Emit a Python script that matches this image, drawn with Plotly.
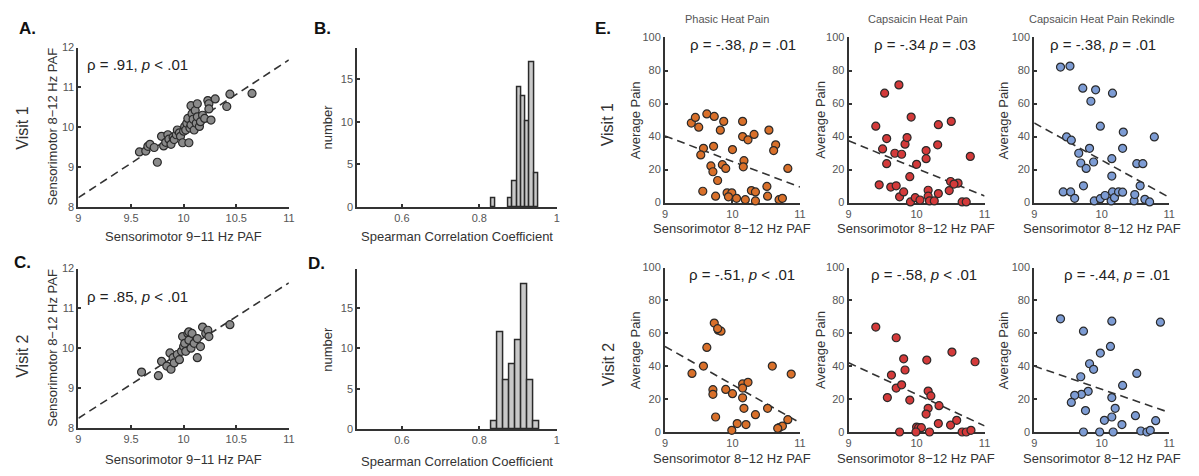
import plotly.graph_objects as go

W, H = 1199, 476
FONT = "Arial, Liberation Sans, sans-serif"
INK = "#333333"
TICK = "#555555"

# ---------------- Panel A / C: 9-11 Hz vs 8-12 Hz PAF ----------------
paf911_v1 = [9.58, 9.64, 9.66, 9.68, 9.72, 9.75, 9.79, 9.81, 9.83, 9.85, 9.86, 9.88, 9.90,
             9.91, 9.93, 9.94, 9.96, 9.97, 9.99, 10.00, 10.01, 10.02, 10.03, 10.04, 10.05,
             10.06, 10.07, 10.07, 10.08, 10.09, 10.10, 10.11, 10.12, 10.13, 10.13, 10.15,
             10.16, 10.18, 10.20, 10.23, 10.24, 10.24, 10.26, 10.30, 10.41, 10.44, 10.65]
paf812_v1 = [9.38, 9.40, 9.52, 9.57, 9.49, 9.12, 9.77, 9.53, 9.62, 9.81, 9.70, 9.57, 9.75,
             9.69, 9.81, 9.93, 9.86, 9.77, 9.61, 9.90, 10.02, 9.93, 10.10, 10.22, 9.61,
             9.98, 10.06, 10.54, 10.34, 10.20, 9.93, 10.42, 10.10, 10.59, 10.26, 10.02,
             10.14, 10.30, 10.22, 10.67, 10.59, 10.46, 10.18, 10.71, 10.52, 10.83, 10.85]

paf911_v2 = [9.60, 9.76, 9.79, 9.84, 9.87, 9.88, 9.90, 9.91, 9.94, 9.96, 9.98, 9.99, 10.00,
             10.01, 10.02, 10.04, 10.05, 10.05, 10.07, 10.08, 10.10, 10.13, 10.13, 10.16,
             10.18, 10.21, 10.23, 10.24, 10.44]
paf812_v2 = [9.40, 9.31, 9.67, 9.55, 9.88, 9.47, 9.76, 9.63, 9.84, 9.71, 9.92, 10.29, 10.04,
             10.12, 9.92, 10.37, 10.20, 10.41, 10.00, 10.37, 10.12, 10.24, 9.76, 10.04,
             10.53, 10.37, 10.45, 10.29, 10.59]

# dashed least-squares lines: value at 9 Hz and slope
fit_a = [8.23, 1.73]
fit_c = [8.24, 1.70]

# ---------------- Panel B / D: bootstrap Spearman coefficients ----------------
hist_b_start, hist_b_width = 0.831, 0.011
hist_b_counts = [1, 0, 0, 0, 1, 3, 14, 13, 10, 17, 4]
hist_d_start, hist_d_width = 0.8315, 0.0155
hist_d_counts = [1, 12, 6, 8, 11, 18, 6, 1]

# ---------------- Panel E: PAF vs average pain ----------------
phasic_v1_x = [9.39, 9.45, 9.50, 9.62, 9.73, 9.87, 9.82, 9.57, 9.53, 9.72, 9.68, 9.71, 9.78,
               9.85, 9.90, 10.00, 10.15, 10.15, 10.23, 10.32, 10.17, 10.16, 9.56, 9.75, 9.92,
               9.99, 9.94, 10.06, 10.19, 10.28, 10.34, 10.34, 10.51, 10.52, 10.54, 10.64,
               10.61, 10.82, 10.69, 10.74]
phasic_v1_y = [48.2, 51.6, 45.7, 53.7, 52.2, 49.2, 43.9, 32.9, 28.9, 34.1, 22.2, 18.7, 13.4,
               23.0, 20.7, 32.1, 49.2, 40.0, 38.0, 41.3, 25.4, 21.7, 6.9, 3.9, 5.9,
               5.9, 3.5, 2.6, 1.8, 7.3, 6.5, 1.0, 9.8, 3.9, 43.9, 35.0,
               31.5, 20.7, 1.8, 2.6]

caps_v1_x = [9.40, 9.53, 9.74, 9.92, 9.56, 9.50, 9.56, 9.68, 9.78, 9.83, 9.86, 10.00, 10.14,
             10.14, 10.32, 10.31, 10.51, 10.79, 9.45, 9.62, 9.70, 9.75, 9.81, 9.90, 9.91,
             9.98, 10.05, 10.17, 10.17, 10.19, 10.26, 10.32, 10.48, 10.50, 10.61, 10.67,
             10.73, 10.55]
caps_v1_y = [46.3, 66.3, 71.3, 51.8, 38.8, 32.5, 23.6, 29.9, 29.3, 35.4, 39.4, 23.2, 31.5,
             26.6, 47.2, 35.0, 49.2, 28.0, 10.8, 9.4, 10.2, 3.5, 6.5, 15.7, 0.4,
             3.0, 1.6, 7.5, 3.9, 1.0, 1.0, 5.5, 7.3, 12.8, 11.8, 0.4,
             0.4, 11.2]

rek_v1_x = [9.39, 9.53, 9.72, 9.91, 9.84, 10.16, 9.98, 9.48, 9.55, 9.66, 9.69, 9.77, 9.82,
            9.88, 10.15, 10.32, 10.31, 10.15, 10.52, 10.61, 10.78, 9.73, 9.43, 9.54, 9.60,
            9.89, 9.98, 10.05, 10.14, 10.16, 10.19, 10.25, 10.31, 10.48, 10.49, 10.57,
            10.64, 10.71]
rek_v1_y = [82.1, 82.7, 69.3, 68.3, 61.4, 66.3, 46.3, 39.8, 37.8, 29.9, 24.0, 20.7, 32.9,
            24.6, 26.6, 42.7, 32.9, 16.1, 23.6, 23.6, 39.8, 10.2, 6.5, 6.5, 2.6,
            1.0, 2.4, 4.3, 1.0, 6.5, 3.0, 6.5, 6.3, 1.0, 4.9, 10.2,
            2.0, 0.4]

phasic_v2_x = [9.73, 9.79, 9.83, 9.78, 9.62, 9.40, 9.57, 9.71, 9.71, 9.90, 10.00, 10.15,
               10.23, 10.15, 10.15, 10.17, 9.75, 10.07, 9.99, 10.20, 10.34, 10.52, 10.59,
               10.87, 10.82, 10.69, 10.74, 10.67]
phasic_v2_y = [66.2, 61.9, 61.3, 62.8, 51.4, 35.6, 40.1, 25.7, 22.9, 25.9, 23.3, 29.2,
               30.2, 26.7, 20.8, 14.4, 9.1, 5.1, 1.0, 4.5, 10.5, 14.4, 40.1,
               35.2, 7.5, 2.6, 3.6, 2.2]

caps_v2_x = [9.40, 9.70, 9.81, 9.83, 9.63, 9.57, 9.70, 9.78, 9.90, 10.15, 10.17, 10.21, 10.17,
             10.14, 10.33, 10.52, 10.86, 9.75, 10.00, 10.03, 10.07, 9.99, 10.19, 10.32, 10.50,
             10.59, 10.67, 10.73, 10.80]
caps_v2_y = [63.8, 57.3, 44.5, 37.7, 34.6, 20.9, 26.7, 28.7, 19.4, 43.7, 24.9, 21.9, 14.4,
             10.9, 16.0, 48.6, 42.7, 0.0, 3.0, 2.6, 2.6, 0.0, 0.0, 5.1, 4.2,
             7.1, 0.0, 0.0, 1.0]

rek_v2_x = [9.39, 9.73, 10.15, 10.87, 10.13, 9.98, 9.82, 9.88, 9.69, 10.52, 10.31, 9.80, 9.70,
            9.60, 9.55, 9.76, 10.15, 10.20, 10.15, 10.04, 10.30, 10.50, 10.80, 9.73, 9.97,
            10.17, 10.58, 10.67, 10.72]
rek_v2_y = [68.8, 61.3, 67.4, 66.8, 52.0, 48.0, 41.5, 38.1, 33.6, 35.6, 28.3, 24.7, 22.9,
            22.3, 18.0, 13.0, 20.9, 14.4, 9.1, 7.1, 4.5, 9.9, 6.9, 0.0, 0.0,
            0.0, 0.6, 0.0, 1.0]

# value at 9 Hz and slope of each dashed regression line
fit_phasic_v1 = [40.4, -15.5]
fit_caps_v1 = [37.4, -16.7]
fit_rek_v1 = [48.2, -22.5]
fit_phasic_v2 = [52.0, -23.2]
fit_caps_v2 = [42.1, -19.2]
fit_rek_v2 = [40.1, -14.1]

ORANGE = "#d9702a"
RED = "#d43a3a"
BLUE = "#7d9cd4"
GREY = "#8a8a8a"


def px_x(a, b):
    return [a / W, b / W]


def px_y(top, bottom):
    return [1 - bottom / H, 1 - top / H]


def axis(domain, rng, tickvals, ticktext, anchor):
    return dict(domain=domain, range=rng, anchor=anchor, tickvals=tickvals,
                ticktext=ticktext, showline=True, linecolor=INK, linewidth=2,
                ticks="inside", ticklen=3, tickwidth=1.5, tickcolor=INK,
                showgrid=False, zeroline=False, fixedrange=True,
                layer="below traces",
                tickfont=dict(family=FONT, size=11, color=TICK))


fig = go.Figure()
layout = {}

# axis id -> (x pixel span, y pixel span)
panels = {
    1: ((76, 288), (42.7, 206)),      # A
    2: ((357, 558), (43.3, 206.3)),   # B
    3: ((76, 288), (269.3, 432.7)),   # C
    4: ((357, 558), (270, 434)),      # D
    5: ((667, 803), (32.3, 201.7)),
    6: ((852, 989), (32.3, 201.7)),
    7: ((1039, 1175), (32.3, 201.7)),
    8: ((667, 803), (268.3, 437)),
    9: ((852, 989), (268.3, 437)),
    10: ((1039, 1175), (268.3, 437)),
}

paf_ticks = ([9, 9.5, 10, 10.5, 11], ["9", "9.5", "10", "10.5", "11"])
paf_y = ([8, 9, 10, 11, 12], ["8", "9", "10", "11", "12"])
hist_x = ([0.6, 0.8, 1.0], ["0.6", "0.8", "1"])
hist_y = ([0, 5, 10, 15], ["0", "5", "10", "15"])
e_x = ([9, 10, 11], ["9", "10", "11"])
e_y = ([0, 20, 40, 60, 80, 100], ["0", "20", "40", "60", "80", "100"])

for i, ((x0, x1), (y0, y1)) in panels.items():
    xs = "" if i == 1 else str(i)
    if i in (1, 3):
        xr, xt, yr, yt = [9, 11], paf_ticks, [8, 12], paf_y
    elif i == 2:
        xr, xt, yr, yt = [0.485, 1.0], hist_x, [0, 18.6], hist_y
    elif i == 4:
        xr, xt, yr, yt = [0.485, 1.0], hist_x, [0, 19.8], hist_y
    else:
        xr, xt, yr, yt = [9, 11], e_x, [0, 100], e_y
    layout["xaxis" + xs] = axis(px_x(x0, x1), xr, xt[0], xt[1], "y" + xs)
    layout["yaxis" + xs] = axis(px_y(y0, y1), yr, yt[0], yt[1], "x" + xs)


def ref(i):
    s = "" if i == 1 else str(i)
    return "x" + s, "y" + s


def scatter(i, xv, yv, color):
    xa, ya = ref(i)
    fig.add_trace(go.Scatter(x=xv, y=yv, mode="markers", xaxis=xa, yaxis=ya,
                             cliponaxis=False, showlegend=False,
                             marker=dict(size=8, color=color,
                                         line=dict(color="#2a2a2a", width=1.2))))


def fit_line(i, params, x0=9.0, x1=11.0):
    xa, ya = ref(i)
    xs = [x0, x1]
    ys = [params[0] + params[1] * (v - 9.0) for v in xs]
    fig.add_trace(go.Scatter(x=xs, y=ys, mode="lines", xaxis=xa, yaxis=ya,
                             showlegend=False, hoverinfo="skip",
                             line=dict(color=INK, width=1.6, dash="8px,5px")))


def histogram(i, start, width, counts):
    xa, ya = ref(i)
    centers = [start + width * (k + 0.5) for k, c in enumerate(counts) if c > 0]
    heights = [c for c in counts if c > 0]
    fig.add_trace(go.Bar(x=centers, y=heights, width=width, xaxis=xa, yaxis=ya,
                         showlegend=False,
                         marker=dict(color="#c9c9c9", line=dict(color="#2a2a2a", width=1.5))))


fit_line(1, fit_a)
scatter(1, paf911_v1, paf812_v1, GREY)
fit_line(3, fit_c)
scatter(3, paf911_v2, paf812_v2, GREY)
histogram(2, hist_b_start, hist_b_width, hist_b_counts)
histogram(4, hist_d_start, hist_d_width, hist_d_counts)

for i, (xv, yv, col, fit) in {
    5: (phasic_v1_x, phasic_v1_y, ORANGE, fit_phasic_v1),
    6: (caps_v1_x, caps_v1_y, RED, fit_caps_v1),
    7: (rek_v1_x, rek_v1_y, BLUE, fit_rek_v1),
    8: (phasic_v2_x, phasic_v2_y, ORANGE, fit_phasic_v2),
    9: (caps_v2_x, caps_v2_y, RED, fit_caps_v2),
    10: (rek_v2_x, rek_v2_y, BLUE, fit_rek_v2),
}.items():
    fit_line(i, fit)
    scatter(i, xv, yv, col)

ann = []


def text(x, y, s, size=13, color=INK, angle=0, xanchor="center", bold=False):
    if bold:
        s = "<b>" + s + "</b>"
    ann.append(dict(x=x / W, y=1 - y / H, xref="paper", yref="paper", text=s,
                    showarrow=False, xanchor=xanchor, yanchor="middle", textangle=angle,
                    font=dict(family=FONT, size=size, color=color)))


# panel letters
for s, x, y in [("A.", 25, 23), ("B.", 322, 23), ("C.", 20, 263), ("D.", 316, 264), ("E.", 605, 23)]:
    text(x, y, s, size=17, color="#111111", bold=True)

# row labels
for s, x, y in [("Visit 1", 20, 125), ("Visit 2", 20, 359), ("Visit 1", 610, 122), ("Visit 2", 610, 368)]:
    text(x, y, s, size=16, angle=-90)

# column titles
for s, x in [("Phasic Heat Pain", 729), ("Capsaicin Heat Pain", 922), ("Capsaicin Heat Pain Rekindle", 1107)]:
    text(x, 13, s, size=11, color="#555555")

# axis titles
ylab_paf = "Sensorimotor 8\u221212 Hz PAF"
xlab_paf = "Sensorimotor 9\u221211 Hz PAF"
text(50, 124, ylab_paf, angle=-90)
text(50, 351, ylab_paf, angle=-90)
text(182, 236, xlab_paf)
text(182, 465, xlab_paf)
text(327, 124, "number", angle=-90)
text(327, 352, "number", angle=-90)
text(457, 236, "Spearman Correlation Coefficient")
text(457, 467, "Spearman Correlation Coefficient")
for x in (637, 823, 1008):
    text(x, 117, "Average Pain", angle=-90)
    text(x, 353, "Average Pain", angle=-90)
for x in (735, 920, 1107):
    text(x, 228, ylab_paf)
    text(x, 464, ylab_paf)

# correlation statistics
stats = [
    ("\u03c1 = .91, <i>p</i> &lt; .01", 83, 60),
    ("\u03c1 = .85, <i>p</i> &lt; .01", 83, 298),
    ("\u03c1 = -.38, <i>p</i> = .01", 690, 39),
    ("\u03c1 = -.34 <i>p</i> = .03", 876, 40),
    ("\u03c1 = -.38, <i>p</i> = .01", 1053, 40),
    ("\u03c1 = -.51, <i>p</i> &lt; .01", 689, 275),
    ("\u03c1 = -.58, <i>p</i> &lt; .01", 873, 275),
    ("\u03c1 = -.44, <i>p</i> = .01", 1067, 275),
]
for s, x, y in stats:
    text(x, y, s, size=15, color="#222222", xanchor="left")

fig.update_layout(
    width=W, height=H, margin=dict(l=0, r=0, t=0, b=0),
    paper_bgcolor="white", plot_bgcolor="white",
    annotations=ann, bargap=0, showlegend=False,
    font=dict(family=FONT),
    **layout,
)

fig.write_html("out.html")
